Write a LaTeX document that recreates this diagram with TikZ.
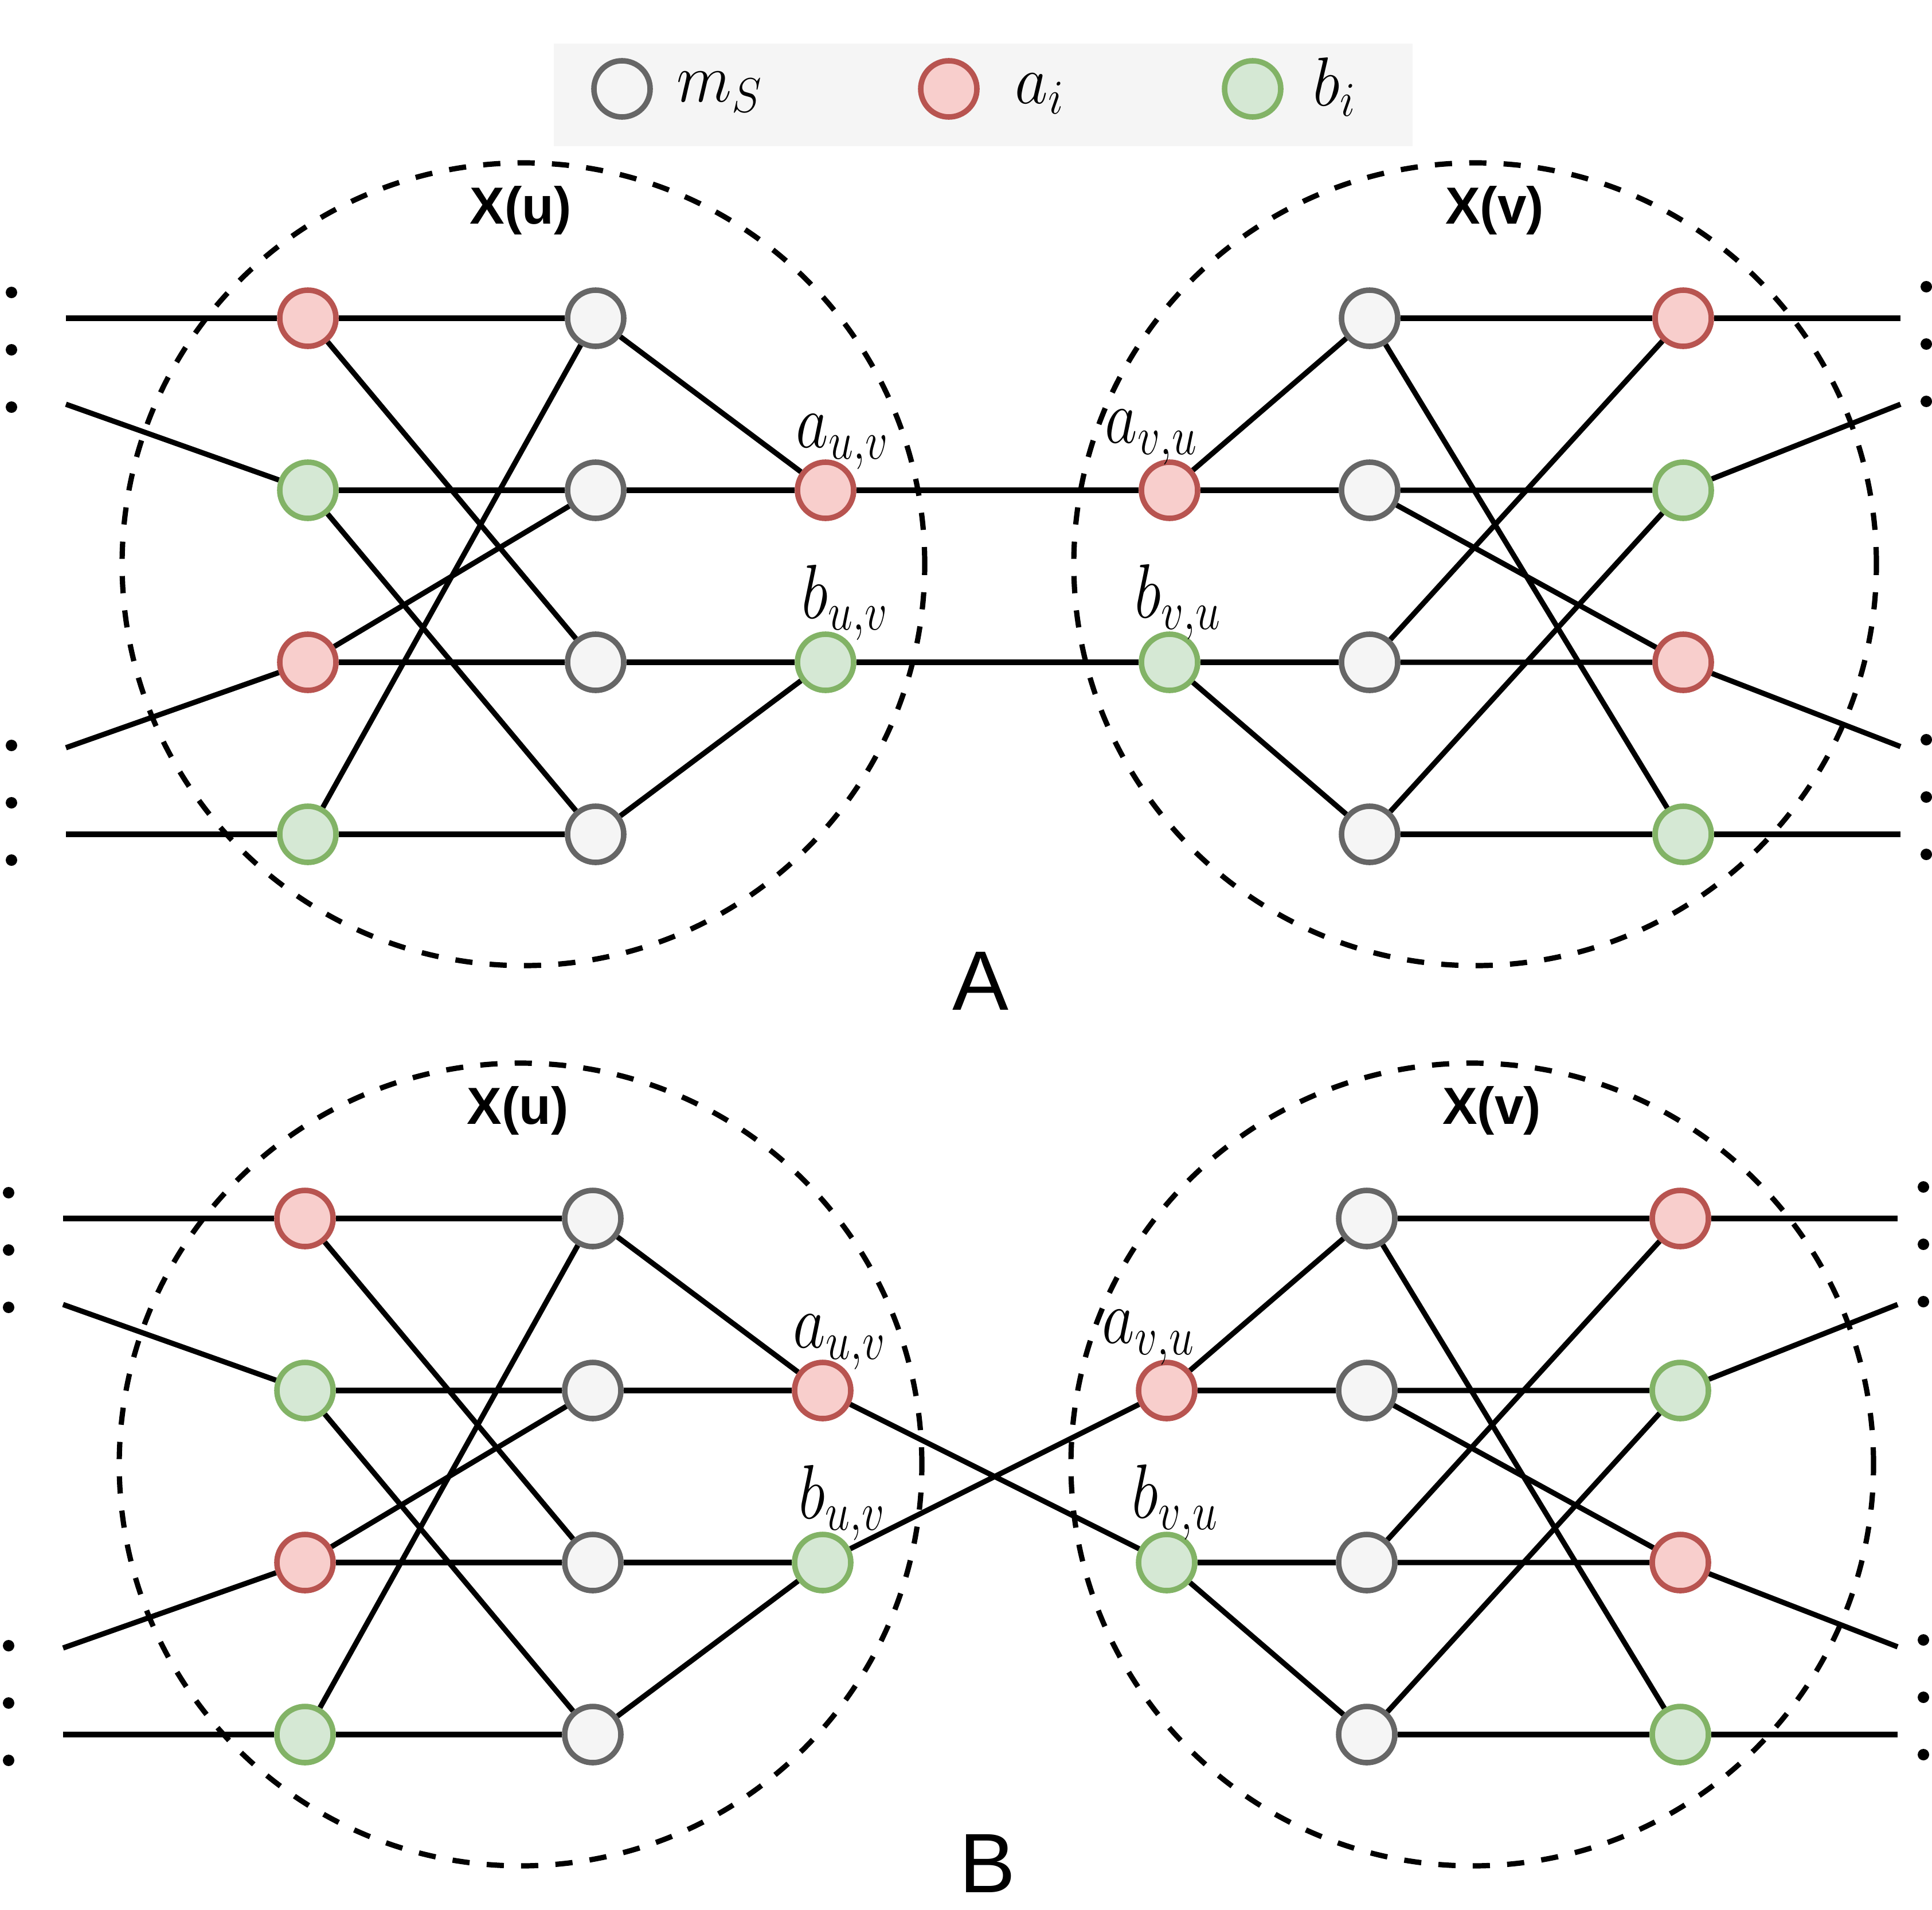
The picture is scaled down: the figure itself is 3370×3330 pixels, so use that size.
\documentclass[tikz,border=0pt]{standalone}
\usepackage{fix-cm}
\usepackage{graphicx}
\usepackage{fontspec}
\setsansfont{Liberation Sans}
\definecolor{redfill}{HTML}{F8CECC}
\definecolor{redline}{HTML}{B85450}
\definecolor{greenfill}{HTML}{D5E8D4}
\definecolor{greenline}{HTML}{82B366}
\definecolor{grayfill}{HTML}{F5F5F5}
\definecolor{grayline}{HTML}{666666}
\definecolor{legendbg}{HTML}{F5F5F5}
\tikzset{
  basenode/.style={circle, inner sep=0pt, minimum size=24.5pt, line width=2.4pt},
  rednode/.style={basenode, draw=redline, fill=redfill},
  greennode/.style={basenode, draw=greenline, fill=greenfill},
  graynode/.style={basenode, draw=grayline, fill=grayfill},
  conn/.style={line width=2.3pt, draw=black},
  region/.style={line width=2.3pt, draw=black, dash pattern=on 7.5pt off 7.5pt},
  dotnode/.style={circle, fill=black, inner sep=0pt, minimum size=5pt},
  mathlbl/.style={inner sep=0pt, anchor=base west, font=\fontsize{27.5pt}{30pt}\selectfont},
  leglbl/.style={inner sep=0pt, anchor=base west, font=\fontsize{28pt}{30pt}\selectfont},
  clustertitle/.style={font=\sffamily\bfseries\fontsize{22.75pt}{26pt}\selectfont, anchor=base, inner sep=0pt},
  panellbl/.style={font=\sffamily\fontsize{36.75pt}{40pt}\selectfont, anchor=base, inner sep=0pt},
}
\newcommand\drawpanel[1]{%
  \draw[region] (913,984) circle[radius=175pt];
  \draw[region] (2573,984) circle[radius=175pt];
  \node[clustertitle] (tu) at (908,390) {X(u)};
  \node[clustertitle] (tv) at (2607,390) {X(v)};
  % dots
  \node[dotnode] (dl1) at (20,510) {};
  \node[dotnode] (dl2) at (20,610) {};
  \node[dotnode] (dl3) at (20,710) {};
  \node[dotnode] (dl4) at (20,1300) {};
  \node[dotnode] (dl5) at (20,1400) {};
  \node[dotnode] (dl6) at (20,1500) {};
  \node[dotnode] (dr1) at (3360,500) {};
  \node[dotnode] (dr2) at (3360,600) {};
  \node[dotnode] (dr3) at (3360,700) {};
  \node[dotnode] (dr4) at (3360,1290) {};
  \node[dotnode] (dr5) at (3360,1390) {};
  \node[dotnode] (dr6) at (3360,1490) {};
  % free ends
  \coordinate (l1) at (115,555);
  \coordinate (l2) at (115,705);
  \coordinate (l3) at (115,1304);
  \coordinate (l4) at (115,1455);
  \coordinate (r1) at (3315,555);
  \coordinate (r2) at (3315,705);
  \coordinate (r3) at (3315,1302);
  \coordinate (r4) at (3315,1455);
  % cluster u
  \node[rednode] (uL1) at (537,555) {};
  \node[greennode] (uL2) at (537,855) {};
  \node[rednode] (uL3) at (537,1155) {};
  \node[greennode] (uL4) at (537,1455) {};
  \node[graynode] (uM1) at (1039,555) {};
  \node[graynode] (uM2) at (1039,855) {};
  \node[graynode] (uM3) at (1039,1155) {};
  \node[graynode] (uM4) at (1039,1455) {};
  \node[rednode] (ua) at (1440,855) {};
  \node[greennode] (ub) at (1440,1155) {};
  % cluster v
  \node[rednode] (va) at (2040,855) {};
  \node[greennode] (vb) at (2040,1155) {};
  \node[graynode] (vM1) at (2389,555) {};
  \node[graynode] (vM2) at (2389,855) {};
  \node[graynode] (vM3) at (2389,1155) {};
  \node[graynode] (vM4) at (2389,1455) {};
  \node[rednode] (vR1) at (2936,555) {};
  \node[greennode] (vR2) at (2936,855) {};
  \node[rednode] (vR3) at (2936,1155) {};
  \node[greennode] (vR4) at (2936,1455) {};
  % labels
  \node[mathlbl] (lau) at (1388,780) {\scalebox{1}[1.22]{$a_{u,v}$}};
  \node[mathlbl] (lbu) at (1398,1078) {\scalebox{1}[1.22]{$b_{u,v}$}};
  \node[mathlbl] (lav) at (1927,772) {\scalebox{1}[1.22]{$a_{v,u}$}};
  \node[mathlbl] (lbv) at (1979,1077) {\scalebox{1}[1.22]{$b_{v,u}$}};
  % edges cluster u
  \draw[conn] (l1) -- (uL1) -- (uM1);
  \draw[conn] (l2) -- (uL2);
  \draw[conn] (l3) -- (uL3);
  \draw[conn] (l4) -- (uL4) -- (uM4);
  \draw[conn] (uL2) -- (uM2) -- (ua);
  \draw[conn] (uL3) -- (uM3) -- (ub);
  \draw[conn] (uL1) -- (uM3);
  \draw[conn] (uL2) -- (uM4);
  \draw[conn] (uL3) -- (uM2);
  \draw[conn] (uL4) -- (uM1);
  \draw[conn] (uM1) -- (ua);
  \draw[conn] (uM4) -- (ub);
  % edges cluster v
  \draw[conn] (va) -- (vM1);
  \draw[conn] (va) -- (vM2);
  \draw[conn] (vb) -- (vM3);
  \draw[conn] (vb) -- (vM4);
  \draw[conn] (vM1) -- (vR1) -- (r1);
  \draw[conn] (vM1) -- (vR4);
  \draw[conn] (vM2) -- (vR2) -- (r2);
  \draw[conn] (vM2) -- (vR3);
  \draw[conn] (vM3) -- (vR3) -- (r3);
  \draw[conn] (vM3) -- (vR1);
  \draw[conn] (vM4) -- (vR4) -- (r4);
  \draw[conn] (vM4) -- (vR2);
  #1
}
\begin{document}
\begin{tikzpicture}[x=0.25pt, y=-0.25pt]
  \useasboundingbox (0,0) rectangle (3370,3330);
  % legend
  \node[fill=legendbg, inner sep=0pt, minimum width=374.5pt, minimum height=44.75pt, anchor=north west] (legend) at (965,75) {};
  \node[graynode] (legm) at (1085,155) {};
  \node[rednode] (lega) at (1655,155) {};
  \node[greennode] (legb) at (2185,155) {};
  \node[leglbl] (legmt) at (1180,177) {\scalebox{1}[1.08]{$m_S$}};
  \node[leglbl] (legat) at (1770,180) {\scalebox{1}[1.08]{$a_i$}};
  \node[leglbl] (legbt) at (2290,184) {\scalebox{1}[1.08]{$b_i$}};
  % panel A
  \begin{scope}[name prefix=A-]
    \drawpanel{\draw[conn] (ua) -- (va); \draw[conn] (ub) -- (vb);}
  \end{scope}
  % panel B
  \begin{scope}[name prefix=B-, shift={(-5,1570)}]
    \drawpanel{\draw[conn] (ua) -- (vb); \draw[conn] (ub) -- (va);}
  \end{scope}
  \node[panellbl] (labA) at (1710,1761) {A};
  \node[panellbl] (labB) at (1722,3300) {B};
\end{tikzpicture}
\end{document}
